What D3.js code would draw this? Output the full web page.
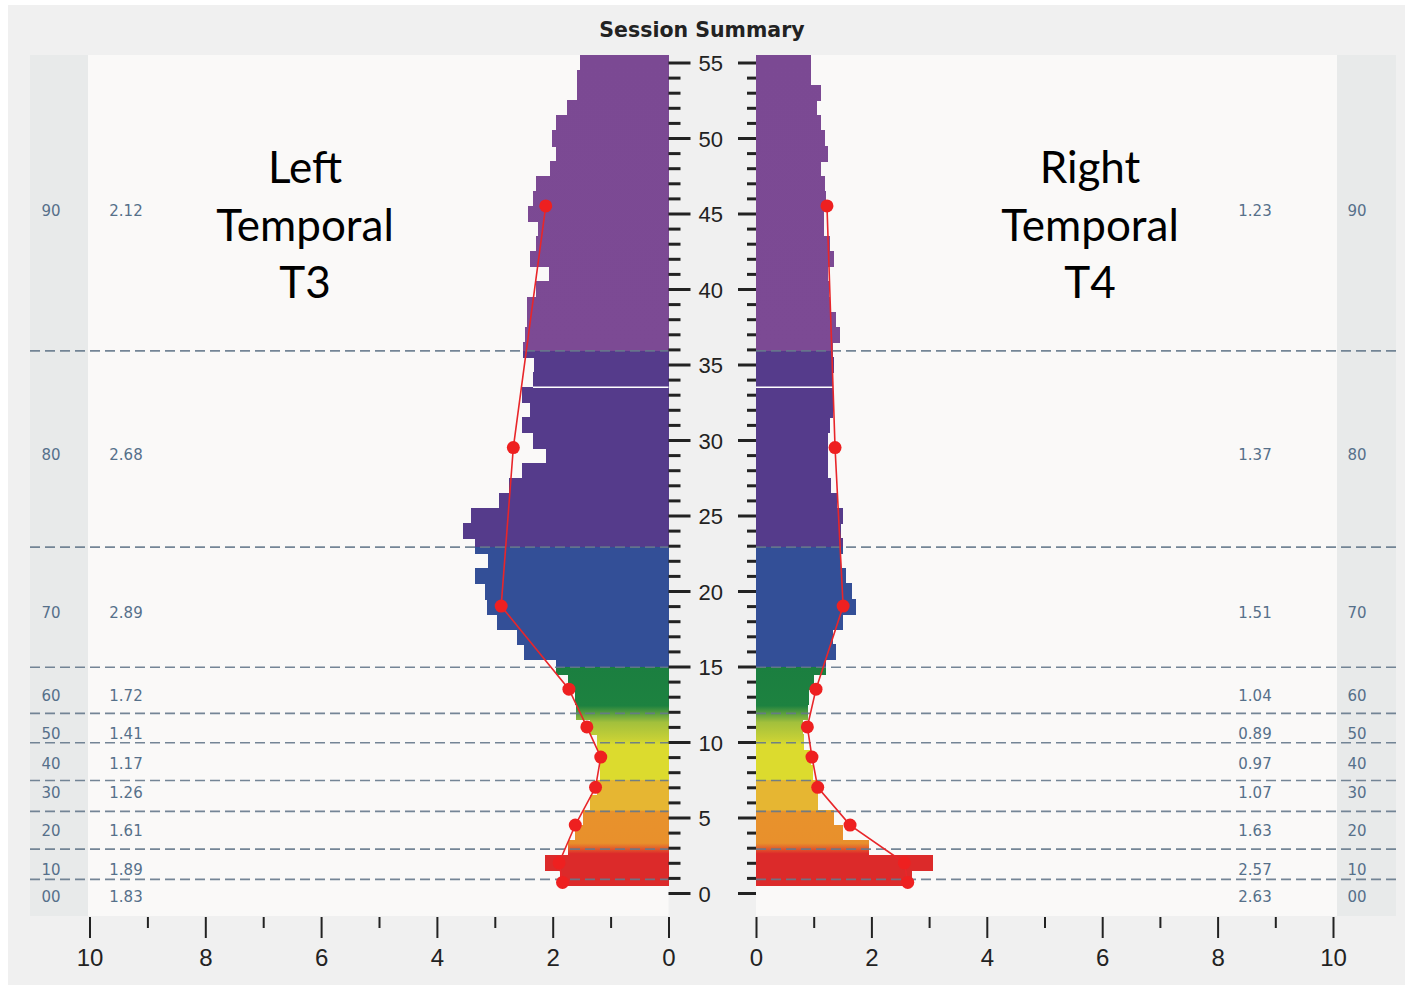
<!DOCTYPE html>
<html>
<head>
<meta charset="utf-8">
<title>Session Summary</title>
<script src="https://d3js.org/d3.v7.min.js"></script>
<style>
  body { margin: 0; background: #fff; }
</style>
</head>
<body>
<div id="chart"></div>
<script>
  // frequency bins (Hz), one bar each
  var freqs = [1, 2, 3, 4, 5, 6, 7, 8, 9, 10, 11, 12, 13, 14, 15, 16, 17, 18, 19, 20,
    21, 22, 23, 24, 25, 26, 27, 28, 29, 30, 31, 32, 33, 34, 35, 36, 37, 38, 39, 40,
    41, 42, 43, 44, 45, 46, 47, 48, 49, 50, 51, 52, 53, 54, 55];
  // amplitude per bin, left (T3) and right (T4)
  var leftValues = [1.87, 2.13, 1.74, 1.61, 1.47, 1.36, 1.23, 1.19, 1.19, 1.23,
    1.35, 1.59, 1.61, 1.74, 1.94, 2.49, 2.62, 2.96, 3.13, 3.17,
    3.34, 3.11, 3.34, 3.55, 3.41, 2.92, 2.75, 2.53, 2.11, 2.34,
    2.53, 2.39, 2.53, 2.34, 2.33, 2.51, 2.47, 2.44, 2.44, 2.28,
    2.07, 2.40, 2.28, 2.26, 2.42, 2.34, 2.28, 2.04, 1.94, 2.01,
    1.94, 1.76, 1.58, 1.58, 1.52];
  var rightValues = [2.70, 3.06, 1.96, 1.50, 1.36, 1.07, 1.07, 0.99, 0.96, 0.84,
    0.81, 0.90, 0.92, 1.01, 1.21, 1.39, 1.33, 1.50, 1.73, 1.66,
    1.56, 1.47, 1.50, 1.47, 1.50, 1.40, 1.30, 1.24, 1.24, 1.24,
    1.29, 1.33, 1.33, 1.33, 1.36, 1.33, 1.46, 1.39, 1.29, 1.27,
    1.24, 1.36, 1.29, 1.18, 1.18, 1.21, 1.19, 1.13, 1.24, 1.19,
    1.13, 1.06, 1.12, 0.96, 0.96];

  // percentile rows
  var pctLabels = ["90", "80", "70", "60", "50", "40", "30", "20", "10", "00"];
  var leftMeans = [2.12, 2.68, 2.89, 1.72, 1.41, 1.17, 1.26, 1.61, 1.89, 1.83];
  var rightMeans = [1.23, 1.37, 1.51, 1.04, 0.89, 0.97, 1.07, 1.63, 2.57, 2.63];
  var meanFreqs = [45.5, 29.5, 19, 13.5, 11, 9, 7, 4.5, 2, 0.7];
  var labelFreqs = [45.1, 29, 18.5, 13, 10.5, 8.5, 6.6, 4.1, 1.5, -0.3];
  var dividerFreqs = [35.9, 22.9, 14.95, 11.9, 9.95, 7.45, 5.4, 2.9, 0.9];
  var gapFreqs = [33.5];

  var yTicks = [0, 5, 10, 15, 20, 25, 30, 35, 40, 45, 50, 55];
  var xTicks = [0, 2, 4, 6, 8, 10];
  var xMinorTicks = [1, 3, 5, 7, 9];

  var W = 1405, H = 985;
  var svg = d3.select("#chart").append("svg")
    .attr("width", W).attr("height", H);

  var y = d3.scaleLinear().domain([0, 55]).range([893, 62.5]);
  var xL = d3.scaleLinear().domain([0, 10]).range([668.5, 89.5]);
  var xR = d3.scaleLinear().domain([0, 10]).range([756, 1333]);

  // backgrounds
  svg.append("rect").attr("x", 8).attr("y", 5).attr("width", W - 8).attr("height", H - 5)
    .attr("fill", "#f0f0f0");
  svg.append("rect").attr("x", 30).attr("y", 55).attr("width", 638.5).attr("height", 861)
    .attr("fill", "#faf9f8");
  svg.append("rect").attr("x", 756).attr("y", 55).attr("width", 640).attr("height", 861)
    .attr("fill", "#faf9f8");
  svg.append("rect").attr("x", 30).attr("y", 55).attr("width", 58).attr("height", 861)
    .attr("fill", "#e8eaea");
  svg.append("rect").attr("x", 1337).attr("y", 55).attr("width", 59).attr("height", 861)
    .attr("fill", "#e8eaea");

  // colour gradient along frequency
  var stops = [
    [55.5, "#7b4993"], [35.9, "#7c4a94"], [35.9, "#553b8b"], [22.9, "#553b8b"],
    [22.9, "#334f97"], [14.95, "#334f97"], [14.95, "#1b7f40"], [12.4, "#1d8240"],
    [11.3, "#a2c03c"], [10.2, "#c6d036"], [9.8, "#dcdb2e"], [7.5, "#dcdb2e"],
    [7.45, "#e6b632"], [5.5, "#e6b632"], [5.4, "#e8922c"], [3.3, "#e8902c"],
    [2.6, "#dc2a2a"], [0.5, "#dc2a2a"]
  ];
  var grad = svg.append("defs").append("linearGradient")
    .attr("id", "bandGrad").attr("gradientUnits", "userSpaceOnUse")
    .attr("x1", 0).attr("x2", 0).attr("y1", y(55.5)).attr("y2", y(0.5));
  var span = y(0.5) - y(55.5);
  stops.forEach(function (s) {
    grad.append("stop").attr("offset", (y(s[0]) - y(55.5)) / span).attr("stop-color", s[1]);
  });

  var bandH = y(0) - y(1);

  // bars
  svg.append("g").attr("shape-rendering", "crispEdges")
    .selectAll("rect").data(freqs).enter().append("rect")
    .attr("x", function (d, i) { return xL(leftValues[i]); })
    .attr("width", function (d, i) { return xL(0) - xL(leftValues[i]); })
    .attr("y", function (d) { return y(d + 0.5); })
    .attr("height", bandH + 1)
    .attr("fill", "url(#bandGrad)");
  svg.append("g").attr("shape-rendering", "crispEdges")
    .selectAll("rect").data(freqs).enter().append("rect")
    .attr("x", xR(0))
    .attr("width", function (d, i) { return xR(rightValues[i]) - xR(0); })
    .attr("y", function (d) { return y(d + 0.5); })
    .attr("height", bandH + 1)
    .attr("fill", "url(#bandGrad)");

  // thin gap line across bars
  gapFreqs.forEach(function (g) {
    var lo = Math.floor(g) - 1, hi = Math.ceil(g) - 1;
    var lv = Math.min(leftValues[lo], leftValues[hi]);
    var rv = Math.min(rightValues[lo], rightValues[hi]);
    svg.append("line").attr("x1", xL(lv)).attr("x2", xL(0))
      .attr("y1", y(g)).attr("y2", y(g)).attr("stroke", "#fff").attr("stroke-width", 1.5);
    svg.append("line").attr("x1", xR(0)).attr("x2", xR(rv))
      .attr("y1", y(g)).attr("y2", y(g)).attr("stroke", "#fff").attr("stroke-width", 1.5);
  });

  // dashed dividers
  var dividers = svg.append("g").attr("stroke", "#66798c").attr("stroke-width", 1.7)
    .attr("stroke-dasharray", "10,5").attr("opacity", 0.9);
  dividers.selectAll(".dl").data(dividerFreqs).enter().append("line")
    .attr("x1", 30).attr("x2", xL(0))
    .attr("y1", function (d) { return y(d); }).attr("y2", function (d) { return y(d); });
  dividers.selectAll(".dr").data(dividerFreqs).enter().append("line")
    .attr("x1", xR(0)).attr("x2", 1396)
    .attr("y1", function (d) { return y(d); }).attr("y2", function (d) { return y(d); });

  // centre frequency axis
  function styleAxis(g, w) {
    g.select(".domain").remove();
    g.selectAll(".tick line").attr("stroke", "#222").attr("stroke-width", w);
    g.selectAll("text").attr("fill", "#222").attr("font-family", "'Liberation Sans', Arial, sans-serif");
  }
  var minorFreqs = freqs.filter(function (f) { return f % 5 !== 0; });
  svg.append("g").attr("transform", "translate(" + xL(0) + ",0)")
    .call(d3.axisRight(y).tickValues(minorFreqs).tickSize(12).tickFormat(""))
    .call(styleAxis, 3);
  svg.append("g").attr("transform", "translate(" + xL(0) + ",0)")
    .call(d3.axisRight(y).tickValues(yTicks).tickSize(22).tickPadding(8))
    .call(styleAxis, 3)
    .selectAll("text").attr("font-size", 22).attr("dy", "0.38em");
  svg.append("g").attr("transform", "translate(" + xR(0) + ",0)")
    .call(d3.axisLeft(y).tickValues(minorFreqs).tickSize(9).tickFormat(""))
    .call(styleAxis, 3);
  svg.append("g").attr("transform", "translate(" + xR(0) + ",0)")
    .call(d3.axisLeft(y).tickValues(yTicks).tickSize(18).tickFormat(""))
    .call(styleAxis, 3);

  // bottom amplitude axes
  [xL, xR].forEach(function (sc) {
    svg.append("g").attr("transform", "translate(0,917)")
      .call(d3.axisBottom(sc).tickValues(xMinorTicks).tickSize(11).tickFormat(""))
      .call(styleAxis, 2);
    svg.append("g").attr("transform", "translate(0,917)")
      .call(d3.axisBottom(sc).tickValues(xTicks).tickSize(21).tickPadding(11))
      .call(styleAxis, 2)
      .selectAll("text").attr("font-size", 24);
  });

  // mean profile lines
  var lineL = d3.line().x(function (d, i) { return xL(leftMeans[i]); })
    .y(function (d) { return y(d); });
  var lineR = d3.line().x(function (d, i) { return xR(rightMeans[i]); })
    .y(function (d) { return y(d); });
  svg.append("path").attr("d", lineL(meanFreqs)).attr("fill", "none")
    .attr("stroke", "#e8262a").attr("stroke-width", 1.6);
  svg.append("path").attr("d", lineR(meanFreqs)).attr("fill", "none")
    .attr("stroke", "#e8262a").attr("stroke-width", 1.6);
  svg.append("g").selectAll("circle").data(meanFreqs).enter().append("circle")
    .attr("cx", function (d, i) { return xL(leftMeans[i]); })
    .attr("cy", function (d) { return y(d); }).attr("r", 6.5).attr("fill", "#ee2020");
  svg.append("g").selectAll("circle").data(meanFreqs).enter().append("circle")
    .attr("cx", function (d, i) { return xR(rightMeans[i]); })
    .attr("cy", function (d) { return y(d); }).attr("r", 6.5).attr("fill", "#ee2020");

  // side labels
  var small = svg.append("g").attr("font-family", "'DejaVu Sans', Verdana, sans-serif")
    .attr("font-size", 15).attr("fill", "#56708a").attr("text-anchor", "middle")
    .attr("dominant-baseline", "middle");
  pctLabels.forEach(function (p, i) {
    var yy = y(labelFreqs[i]);
    small.append("text").attr("x", 51).attr("y", yy).text(p);
    small.append("text").attr("x", 126).attr("y", yy).text(leftMeans[i].toFixed(2));
    small.append("text").attr("x", 1255).attr("y", yy).text(rightMeans[i].toFixed(2));
    small.append("text").attr("x", 1357).attr("y", yy).text(p);
  });

  // title
  svg.append("text").attr("x", 702).attr("y", 37).attr("text-anchor", "middle")
    .attr("font-family", "'DejaVu Sans', Verdana, sans-serif").attr("font-weight", "bold")
    .attr("font-size", 20.5).attr("fill", "#222").text("Session Summary");

  // channel names
  var big = svg.append("g").attr("font-family", "Lato, 'Open Sans', sans-serif")
    .attr("font-size", 44).attr("fill", "#000").attr("text-anchor", "middle");
  ["Left", "Temporal", "T3"].forEach(function (t, i) {
    big.append("text").attr("x", 305).attr("y", 183 + i * 57.5).text(t);
  });
  ["Right", "Temporal", "T4"].forEach(function (t, i) {
    big.append("text").attr("x", 1090).attr("y", 183 + i * 57.5).text(t);
  });
</script>
</body>
</html>
